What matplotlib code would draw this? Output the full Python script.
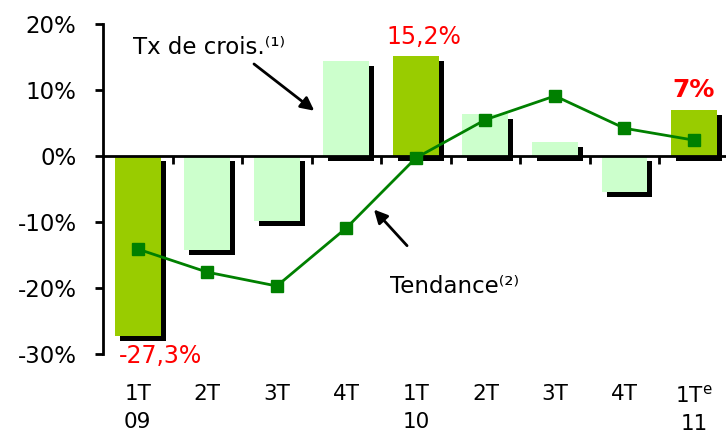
import numpy as np
import matplotlib.pyplot as plt
import matplotlib.patheffects as pe

# quarterly data
quarters = ['1T\n09', '2T', '3T', '4T', '1T\n10', '2T', '3T', '4T', '1T$^{\\mathrm{e}}$\n11']
growth = [-27.3, -14.2, -9.8, 14.4, 15.2, 6.4, 2.1, -5.5, 7.0]
trend = [-14.1, -17.6, -19.7, -10.9, -0.3, 5.5, 9.1, 4.2, 2.4]
highlight = [True, False, False, False, True, False, False, False, True]
yticks = [-30, -20, -10, 0, 10, 20]

DARK = '#99CC00'
LIGHT = '#CCFFCC'
LINE = '#008000'

fig = plt.figure(figsize=(7.26, 4.30), dpi=100)
ax = fig.add_axes([103 / 726, 76 / 430, 623 / 726, 330 / 430])

x = np.arange(len(quarters))
colors = [DARK if h else LIGHT for h in highlight]
shadow = [pe.SimplePatchShadow(offset=(3.6, -3.6), shadow_rgbFace='black', alpha=1.0),
          pe.Normal()]
bars = ax.bar(x, growth, width=0.66, color=colors, zorder=2)
for b in bars:
    b.set_path_effects(shadow)

ax.plot(x, trend, color=LINE, lw=2, marker='s', markersize=9,
        markerfacecolor=LINE, markeredgecolor=LINE, zorder=4)

ax.set_xlim(-0.5, 8.46)
ax.set_ylim(-30, 20)

# axes styling
for s in ['top', 'right']:
    ax.spines[s].set_visible(False)
ax.spines['bottom'].set_position(('data', 0))
ax.spines['bottom'].set_linewidth(2)
ax.spines['bottom'].set_zorder(3)
ax.spines['left'].set_linewidth(2)

ax.set_yticks(yticks)
ax.set_yticklabels([f'{v}%' for v in yticks], fontsize=16.5)
ax.tick_params(axis='y', direction='out', length=6, width=2, pad=13)

ax.set_xticks(np.arange(0.5, 8.5, 1.0))
ax.set_xticklabels([])
ax.tick_params(axis='x', which='major', direction='out', length=6, width=2)
ax.set_xticks(x, minor=True)
ax.tick_params(axis='x', which='minor', length=0)
for xi, lab in zip(x, quarters):
    ax.text(xi, -34.6, lab, ha='center', va='top', fontsize=15.5, linespacing=1.5)

# value labels
ax.text(4.12, 16.2, '15,2%', color='red', ha='center', va='bottom', fontsize=17)
ax.text(8.0, 8.2, '7%', color='red', ha='center', va='bottom', fontsize=18,
        fontweight='bold')
ax.text(0.32, -28.5, '-27,3%', color='red', ha='center', va='top', fontsize=17)

# annotations
ax.annotate('', xy=(2.57, 6.6), xytext=(1.64, 14.2),
            arrowprops=dict(arrowstyle='-|>,head_length=0.8,head_width=0.4',
                            color='black', lw=2))
ax.text(-0.07, 16.4, 'Tx de crois.\u207d\u00b9\u207e', ha='left', va='center',
        fontsize=16.5)
ax.annotate('', xy=(3.37, -7.8), xytext=(3.9, -13.9),
            arrowprops=dict(arrowstyle='-|>,head_length=0.8,head_width=0.4',
                            color='black', lw=2))
ax.text(3.63, -19.8, 'Tendance\u207d\u00b2\u207e', ha='left', va='center',
        fontsize=16.5)

fig.savefig('out.png', dpi=100)
